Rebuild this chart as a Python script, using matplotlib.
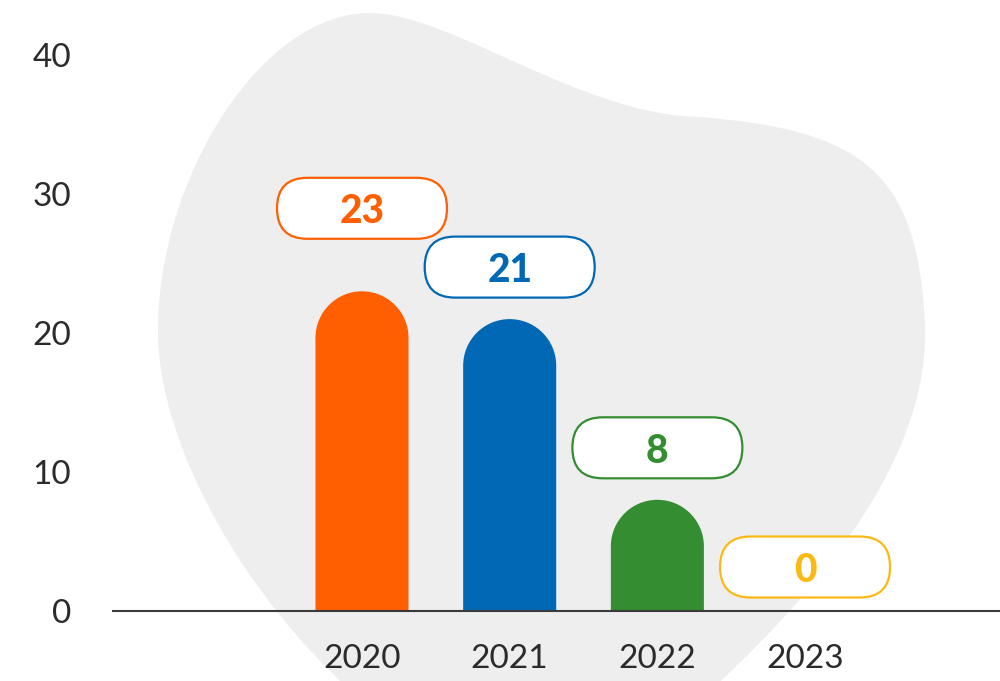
import matplotlib.pyplot as plt
from matplotlib.path import Path
from matplotlib.patches import PathPatch, FancyBboxPatch
from matplotlib.transforms import IdentityTransform

years = ["2020", "2021", "2022", "2023"]
counts = [23, 21, 8, 0]
colors = ["#FF5F00", "#0068B4", "#348E31", "#FDB913"]
label_lift = [83, 52, 52, 44]  # pixels between bar top and pill centre

plt.rcParams["font.family"] = ["Lato", "DejaVu Sans"]

W, H = 1000, 681
fig = plt.figure(figsize=(W / 100, H / 100), dpi=100)

# grey blob behind the chart, drawn in pixel coords measured from the top-left
M, C, L = Path.MOVETO, Path.CURVE4, Path.LINETO
blob_pts = [
    (M, (370, 13)),
    (C, (450, 13)), (C, (580, 115)), (C, (700, 117)),
    (C, (860, 130)), (C, (920, 170)), (C, (925, 330)),
    (C, (928, 470)), (C, (800, 610)), (C, (700, 700)),
    (L, (700, 760)), (L, (350, 760)), (L, (350, 690)),
    (C, (250, 600)), (C, (158, 450)), (C, (158, 330)),
    (C, (158, 180)), (C, (260, 13)), (C, (370, 13)),
    (Path.CLOSEPOLY, (370, 13)),
]
codes = [c for c, _ in blob_pts]
verts = [(x / W, 1 - y / H) for _, (x, y) in blob_pts]
fig.add_artist(PathPatch(Path(verts, codes), facecolor="#EEEEEE", edgecolor="none",
                         transform=fig.transFigure, zorder=-1))

ax = fig.add_axes([113 / W, (H - 611) / H, 887 / W, 556 / H])
ax.patch.set_alpha(0)
ax.set_xlim(-1.686, 4.32)
ax.set_ylim(0, 40)

bar_w = 0.63
# vertical radius of the round cap so it looks circular on screen
px_x = 887 / (4.32 + 1.686)
px_y = 556 / 40
ry = (bar_w / 2) * px_x / px_y
k = 0.5523

for i, v in enumerate(counts):
    if v <= 0:
        continue
    x0, x1 = i - bar_w / 2, i + bar_w / 2
    hw = bar_w / 2
    s = v - ry
    pts = [
        (M, (x0, 0)), (L, (x0, s)),
        (C, (x0, s + k * ry)), (C, (i - k * hw, v)), (C, (i, v)),
        (C, (i + k * hw, v)), (C, (x1, s + k * ry)), (C, (x1, s)),
        (L, (x1, 0)), (Path.CLOSEPOLY, (x0, 0)),
    ]
    ax.add_patch(PathPatch(Path([p for _, p in pts], [c for c, _ in pts]),
                           facecolor=colors[i], edgecolor="none", zorder=2))

# value pills
for i, v in enumerate(counts):
    px, py = ax.transData.transform((i, v))
    cy = py + label_lift[i]
    pill = FancyBboxPatch((px - 85, cy - 30.5), 170, 61,
                          boxstyle="round,pad=0,rounding_size=30.5",
                          facecolor="white", edgecolor=colors[i], linewidth=1.6,
                          transform=IdentityTransform(), zorder=3, clip_on=False)
    ax.add_artist(pill)
    ax.text(px, cy, str(v), transform=IdentityTransform(), ha="center",
            va="center_baseline", fontsize=28, fontweight="black",
            color=colors[i], zorder=4, clip_on=False)

ax.set_yticks([0, 10, 20, 30, 40])
ax.set_xticks(range(len(years)), years)
ax.tick_params(axis="y", length=0, pad=30, labelsize=24, labelcolor="#2b2b2b")
ax.tick_params(axis="x", length=0, pad=24, labelsize=24, labelcolor="#2b2b2b")

for side in ["left", "top", "right"]:
    ax.spines[side].set_visible(False)
ax.spines["bottom"].set_linewidth(1.5)
ax.spines["bottom"].set_color("#3a3a3a")
ax.spines["bottom"].set_zorder(5)

fig.savefig("out.png", dpi=100)
